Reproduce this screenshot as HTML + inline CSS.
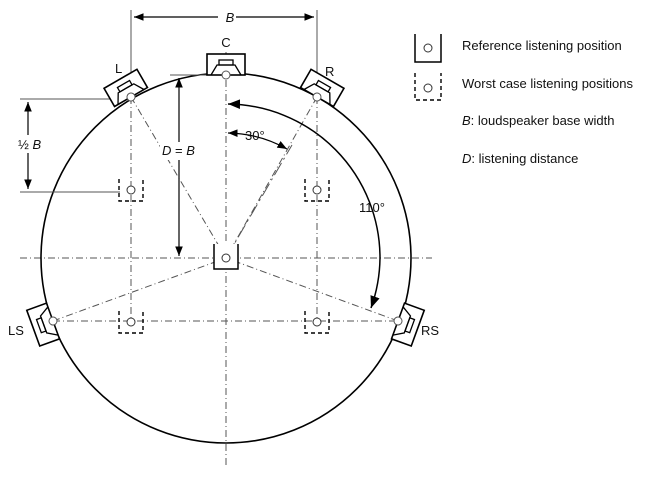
<!DOCTYPE html>
<html><head><style>
body{margin:0;background:#fff;}
svg{display:block;font-family:"Liberation Sans",Arial,sans-serif;}
</style></head><body>
<svg width="665" height="479" viewBox="0 0 665 479" xmlns="http://www.w3.org/2000/svg">
<defs>
<g id="spk">
<rect x="-19" y="-21" width="38" height="21" fill="#fff" stroke="#000" stroke-width="1.6"/>
<path d="M-15,0 L-9,-10 L9,-10 L15,0" fill="none" stroke="#000" stroke-width="1.3"/>
<rect x="-7" y="-15" width="14" height="5" fill="none" stroke="#000" stroke-width="1.3"/>
<circle cx="0" cy="0" r="4" fill="#fff" stroke="#555" stroke-width="1"/>
</g>
<g id="wc">
<path d="M-12,-11 V11 H12 V-11" fill="none" stroke="#000" stroke-width="1.4" stroke-dasharray="4,3"/>
<circle cx="0" cy="0" r="4" fill="#fff" stroke="#333" stroke-width="1"/>
</g>
<marker id="ah" viewBox="0 0 10 10" refX="10" refY="5" markerWidth="8" markerHeight="8" orient="auto-start-reverse"><path d="M0,1 L10,5 L0,9 z" fill="#000"/></marker>
</defs>
<g stroke="#555" stroke-width="1" fill="none" stroke-dasharray="7,3,1,3">
<line x1="20" y1="258" x2="432" y2="258"/>
<line x1="226" y1="52" x2="226" y2="465"/>
<line x1="131" y1="97" x2="131" y2="322"/>
<line x1="317" y1="97" x2="317" y2="322"/>
<line x1="53" y1="321" x2="398" y2="321"/>
<line x1="131" y1="97" x2="226" y2="258"/>
<line x1="53" y1="321" x2="226" y2="258"/>
<line x1="398" y1="321" x2="226" y2="258"/>
<line x1="226" y1="258" x2="292" y2="145" stroke-dasharray="14,4,2,4"/>
</g>
<line x1="317" y1="97" x2="226" y2="258" stroke="#555" stroke-dasharray="7,3,1,3"/>
<circle cx="226" cy="258" r="185" fill="none" stroke="#000" stroke-width="1.6"/>
<g stroke="#555" stroke-width="1">
<line x1="131" y1="10" x2="131" y2="97"/>
<line x1="317" y1="10" x2="317" y2="97"/>
<line x1="20" y1="99" x2="131" y2="99"/>
<line x1="20" y1="192" x2="120" y2="192"/>
<line x1="170" y1="75" x2="215" y2="75"/>
</g>
<g stroke="#000" stroke-width="1.2" fill="none">
<line x1="134" y1="17" x2="314" y2="17" marker-start="url(#ah)" marker-end="url(#ah)"/>
<line x1="28" y1="102" x2="28" y2="189" marker-start="url(#ah)" marker-end="url(#ah)"/>
<line x1="179" y1="78" x2="179" y2="256" marker-start="url(#ah)" marker-end="url(#ah)"/>
<path d="M228,104 A154,154 0 0 1 380,258 A154,154 0 0 1 371,308" marker-start="url(#ah)" marker-end="url(#ah)" stroke-width="1.5"/>
<path d="M228,133 A125,125 0 0 1 287,149" marker-start="url(#ah)" marker-end="url(#ah)"/>
</g>
<rect x="218" y="9" width="18" height="16" fill="#fff"/>
<rect x="16" y="135" width="26" height="18" fill="#fff"/>
<rect x="160" y="142" width="40" height="18" fill="#fff"/>
<use href="#spk" transform="translate(226,75)"/>
<use href="#spk" transform="translate(131,97) rotate(-30)"/>
<use href="#spk" transform="translate(317,97) rotate(30)"/>
<use href="#spk" transform="translate(53,321) rotate(-110)"/>
<use href="#spk" transform="translate(398,321) rotate(110)"/>
<use href="#wc" transform="translate(131,190)"/>
<use href="#wc" transform="translate(317,190)"/>
<use href="#wc" transform="translate(131,322)"/>
<use href="#wc" transform="translate(317,322)"/>
<path d="M214,244 V269 H238 V244" fill="#fff" stroke="#000" stroke-width="1.5"/>
<circle cx="226" cy="258" r="4" fill="#fff" stroke="#333"/>
<g font-size="13" fill="#111">
<text x="230" y="22" text-anchor="middle" font-style="italic">B</text>
<text x="226" y="47" text-anchor="middle">C</text>
<text x="115" y="73">L</text>
<text x="325" y="76">R</text>
<text x="8" y="335">LS</text>
<text x="421" y="335">RS</text>
<text x="18" y="149">½ <tspan font-style="italic">B</tspan></text>
<text x="162" y="155"><tspan font-style="italic">D</tspan> = <tspan font-style="italic">B</tspan></text>
<text x="245" y="140">30°</text>
<text x="359" y="212">110°</text>
<text x="462" y="50">Reference listening position</text>
<text x="462" y="88">Worst case listening positions</text>
<text x="462" y="125"><tspan font-style="italic">B</tspan>: loudspeaker base width</text>
<text x="462" y="163"><tspan font-style="italic">D</tspan>: listening distance</text>
</g>
<path d="M415,34 V62 H441 V34" fill="none" stroke="#000" stroke-width="1.5"/>
<circle cx="428" cy="48" r="4" fill="none" stroke="#333"/>
<path d="M415,73 V100 H441 V73" fill="none" stroke="#000" stroke-width="1.4" stroke-dasharray="4,3"/>
<circle cx="428" cy="88" r="4" fill="none" stroke="#333"/>
</svg>
</body></html>
